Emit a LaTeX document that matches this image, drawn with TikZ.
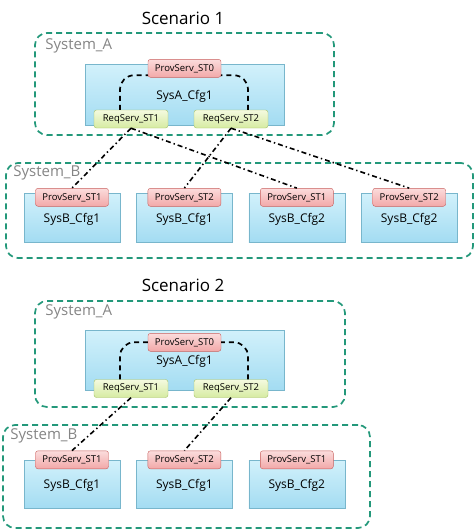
\documentclass[tikz,border=0pt]{standalone}
\usepackage{fontspec}
\setmainfont{Open Sans}
\usepackage{tikz}
\usetikzlibrary{positioning}

\definecolor{zonegreen}{HTML}{23987A}
\definecolor{sysgray}{HTML}{858585}
\definecolor{cfgline}{HTML}{78B6CC}
\definecolor{cfgtop}{HTML}{D2F1FB}
\definecolor{cfgbot}{HTML}{A3DCF2}
\definecolor{provline}{HTML}{C8605E}
\definecolor{provtop}{HTML}{FBDCDC}
\definecolor{provbot}{HTML}{F2A8A8}
\definecolor{reqline}{HTML}{A3C164}
\definecolor{reqtop}{HTML}{F4FADF}
\definecolor{reqbot}{HTML}{D6EBA2}

\begin{document}
\begin{tikzpicture}[x=1pt, y=-1pt, node distance=16pt,
	zone/.style={draw=zonegreen, line width=1.7pt, dash pattern=on 6pt off 4pt, rounded corners=12pt, inner sep=0pt},
	cfg/.style={draw=cfgline, top color=cfgtop, bottom color=cfgbot, minimum width=96pt, minimum height=49pt, inner sep=0pt, text depth=0pt, font=\fontsize{12}{14}\selectfont},
	prov/.style={draw=provline, top color=provtop, bottom color=provbot, rounded corners=2.5pt, minimum width=73pt, minimum height=18pt, inner sep=0pt, font=\fontsize{9.5}{11}\selectfont},
	req/.style={prov, draw=reqline, top color=reqtop, bottom color=reqbot, minimum width=74pt},
	sysname/.style={text=sysgray, anchor=west, inner sep=0pt, font=\fontsize{15}{17}\selectfont},
	title/.style={font=\fontsize{17}{19}\selectfont},
	wire/.style={line width=1.6pt, dash pattern=on 5pt off 3pt on 1.4pt off 3pt},
	loop/.style={line width=1.7pt, dash pattern=on 5pt off 4pt, rounded corners=14pt}]
		\useasboundingbox (0,0) rectangle (474,531);
		
		% Scenario 1
		\node[title] (t1) at (183,18) {Scenario 1};
		\node[zone, minimum width=299pt, minimum height=102pt] (za1) at (184.5,84) {};
		\node[sysname] (na1) at ([xshift=11pt, yshift=-14pt]za1.north west) {System\_A};
		\node[cfg, minimum width=199pt, minimum height=61pt] (a1) at (184.5,94.5) {SysA\_Cfg1};
		\node[prov] (pa1) at ([yshift=-4.5pt]a1.north) {ProvServ\_ST0};
		\node[req] (r11) at (131,119) {ReqServ\_ST1};
		\node[req] (r12) at (231,119) {ReqServ\_ST2};
		
		\node[zone, minimum width=467pt, minimum height=95pt] (zb1) at (239.5,210.5) {};
		\node[sysname] (nb1) at ([xshift=8pt, yshift=-11pt]zb1.north west) {System\_B};
		\node[cfg] (b11) at (72,217.5) {SysB\_Cfg1};
		\node[cfg, right=of b11] (b12) {SysB\_Cfg1};
		\node[cfg, right=of b12] (b13) {SysB\_Cfg2};
		\node[cfg, right=of b13] (b14) {SysB\_Cfg2};
		\node[prov] (p11) at ([yshift=-4.5pt]b11.north) {ProvServ\_ST1};
		\node[prov] (p12) at ([yshift=-4.5pt]b12.north) {ProvServ\_ST2};
		\node[prov] (p13) at ([yshift=-4.5pt]b13.north) {ProvServ\_ST1};
		\node[prov] (p14) at ([yshift=-4.5pt]b14.north) {ProvServ\_ST2};
		
		\draw[loop] ([xshift=-11pt]r11.north) |- ([yshift=-7pt]pa1.west);
		\draw[loop] ([xshift=17pt]r12.north) |- ([yshift=-7pt]pa1.east);
		
		\draw[wire] (r11.south) -- (p11.north);
		\draw[wire] (r11.south) -- (p13.north);
		\draw[wire] (r12.south) -- (p12.north);
		\draw[wire] (r12.south) -- (p14.north);
		
		% Scenario 2
		\node[title] (t2) at (183,285) {Scenario 2};
		\node[zone, minimum width=310pt, minimum height=106pt] (za2) at (190,354) {};
		\node[sysname] (na2) at ([xshift=11pt, yshift=-12pt]za2.north west) {System\_A};
		\node[cfg, minimum width=199pt, minimum height=60pt] (a2) at (184.5,360) {SysA\_Cfg1};
		\node[prov] (pa2) at ([yshift=-12.5pt]a2.north) {ProvServ\_ST0};
		\node[req] (r21) at (131,388.5) {ReqServ\_ST1};
		\node[req] (r22) at (231,388.5) {ReqServ\_ST2};
		
		\node[zone, minimum width=367pt, minimum height=103pt] (zb2) at (186.5,476.5) {};
		\node[sysname] (nb2) at ([xshift=8pt, yshift=-12pt]zb2.north west) {System\_B};
		\node[cfg, minimum height=48pt] (b21) at (72,484) {SysB\_Cfg1};
		\node[cfg, minimum height=48pt, right=of b21] (b22) {SysB\_Cfg1};
		\node[cfg, minimum height=48pt, right=of b22] (b23) {SysB\_Cfg2};
		\node[prov] (p21) at (b21.north) {ProvServ\_ST1};
		\node[prov] (p22) at (b22.north) {ProvServ\_ST2};
		\node[prov] (p23) at (b23.north) {ProvServ\_ST1};
		
		\draw[loop] ([xshift=-11pt]r21.north) |- (pa2.west);
		\draw[loop] ([xshift=17pt]r22.north) |- (pa2.east);
		
		\draw[wire] (r21.south) -- (p21.north);
		\draw[wire] (r22.south) -- (p22.north);
		
\end{tikzpicture}
\end{document}
